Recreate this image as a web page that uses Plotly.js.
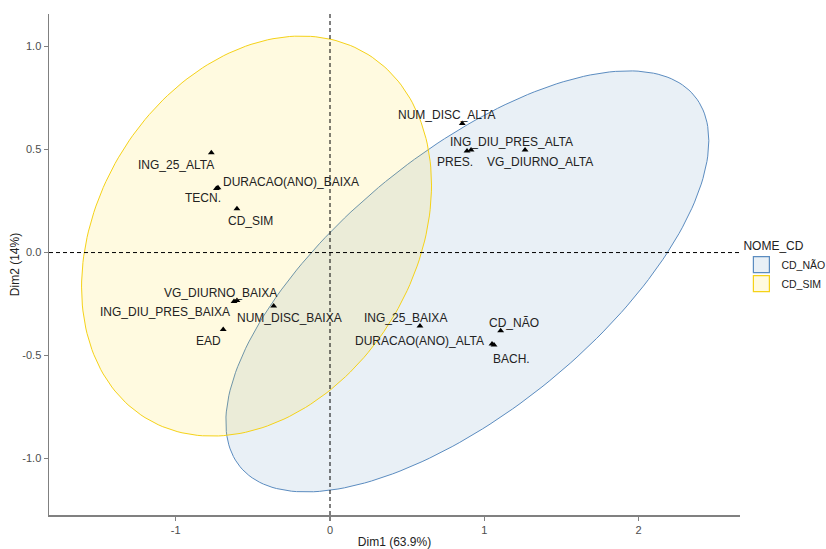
<!DOCTYPE html>
<html>
<head>
<meta charset="utf-8">
<script src="https://cdn.plot.ly/plotly-3.0.1.min.js"></script>
<style>html,body{margin:0;padding:0;background:#fff;}#chart{width:826px;height:549px;}</style>
</head>
<body>
<div id="chart"></div>
<script>
// Category points (MCA map)
const labels = ["NUM_DISC_ALTA","ING_DIU_PRES_ALTA","PRES.","VG_DIURNO_ALTA","ING_25_ALTA","DURACAO(ANO)_BAIXA","TECN.","CD_SIM","VG_DIURNO_BAIXA","ING_DIU_PRES_BAIXA","NUM_DISC_BAIXA","EAD","ING_25_BAIXA","CD_NÃO","BACH.","DURACAO(ANO)_ALTA"];
const dim1 = [0.857, 0.914, 0.888, 1.264, -0.769, -0.726, -0.736, -0.603, -0.603, -0.622, -0.365, -0.692, 0.583, 1.106, 1.063, 1.050];
const dim2 = [0.627, 0.498, 0.493, 0.498, 0.484, 0.315, 0.311, 0.213, -0.233, -0.238, -0.260, -0.373, -0.357, -0.380, -0.449, -0.444];
// label offsets in pixels (repel placement)
const labelDx = [-15, 40, -12, 15, -35, 73, -13, 14, -16, -69, 16, -15, -14, 13, 17, -73];
const labelDy = [8, 8, -11, -12, -12, 6, -10, -12, 8, -10, -12, -12, 8, 8, -14, 3];

// Group ellipses (NOME_CD)
const groups = ["CD_NÃO", "CD_SIM"];
const ellCx = [0.890, -0.476];
const ellCy = [-0.140, 0.080];
const ellHx = [1.565, 1.134];
const ellHy = [1.022, 0.971];
const ellCosPhi = [0.668, 0.255];
const lineColors = ["#5b8cc0", "#f5d218"];
const fillColors = ["rgba(70,130,180,0.12)", "rgba(255,215,0,0.12)"];

const font = "Liberation Sans, Arial, sans-serif";
const traces = [];
for (let g = 0; g < groups.length; g++) {
  const phi = Math.acos(ellCosPhi[g]);
  const xs = [], ys = [];
  for (let i = 0; i <= 200; i++) {
    const t = 2 * Math.PI * i / 200;
    xs.push(ellCx[g] + ellHx[g] * Math.cos(t));
    ys.push(ellCy[g] + ellHy[g] * Math.cos(t - phi));
  }
  traces.push({x: xs, y: ys, type: "scatter", mode: "lines", fill: "toself",
    fillcolor: fillColors[g], line: {color: lineColors[g], width: 1},
    showlegend: false, hoverinfo: "skip"});
}
for (let g = 0; g < groups.length; g++) {
  traces.push({x: [null], y: [null], type: "scatter", mode: "markers", name: groups[g],
    marker: {symbol: "square", size: 16, color: fillColors[g], line: {color: lineColors[g], width: 1.2}}});
}
traces.push({x: dim1, y: dim2, type: "scatter", mode: "markers", showlegend: false,
  marker: {symbol: "triangle-up", size: 6, color: "#000"}, text: labels, hoverinfo: "text"});

const annotations = labels.map((l, i) => ({
  x: dim1[i], y: dim2[i], xref: "x", yref: "y", text: l, showarrow: false,
  xshift: labelDx[i], yshift: labelDy[i], font: {family: font, size: 12, color: "#222"}
}));

const axisCommon = {showgrid: false, zeroline: false, showline: true, linecolor: "#808080", linewidth: 1.5,
  ticks: "outside", ticklen: 4, tickcolor: "#808080", tickwidth: 1.2,
  tickfont: {family: font, size: 11, color: "#4d4d4d"}};

const layout = {
  width: 826, height: 549,
  margin: {l: 49, r: 86, t: 14, b: 34, autoexpand: false},
  paper_bgcolor: "#fff", plot_bgcolor: "#fff",
  xaxis: Object.assign({}, axisCommon, {range: [-1.821, 2.657], tickvals: [-1, 0, 1, 2], ticktext: ["-1", "0", "1", "2"],
    title: {text: "Dim1 (63.9%)", font: {family: font, size: 12, color: "#222"}, standoff: 4}}),
  yaxis: Object.assign({}, axisCommon, {range: [-1.274, 1.158], tickvals: [-1, -0.5, 0, 0.5, 1], ticktext: ["-1.0", "-0.5", "0.0", "0.5", "1.0"],
    title: {text: "Dim2 (14%)", font: {family: font, size: 12, color: "#222"}, standoff: 0}}),
  shapes: [
    {type: "line", xref: "x", yref: "paper", x0: 0, x1: 0, y0: 0, y1: 1, line: {color: "#000", width: 1, dash: "4px,3px"}},
    {type: "line", xref: "paper", yref: "y", x0: 0, x1: 1, y0: 0, y1: 0, line: {color: "#000", width: 1, dash: "4px,3px"}}
  ],
  annotations: annotations,
  showlegend: true,
  legend: {x: 1.002, xanchor: "left", y: 0.56, yanchor: "top", traceorder: "normal", tracegroupgap: 0,
    title: {text: "NOME_CD", font: {family: font, size: 12, color: "#222"}},
    font: {family: font, size: 10.5, color: "#222"}, itemwidth: 30}
};

Plotly.newPlot("chart", traces, layout, {displayModeBar: false, staticPlot: true});
</script>
</body>
</html>
